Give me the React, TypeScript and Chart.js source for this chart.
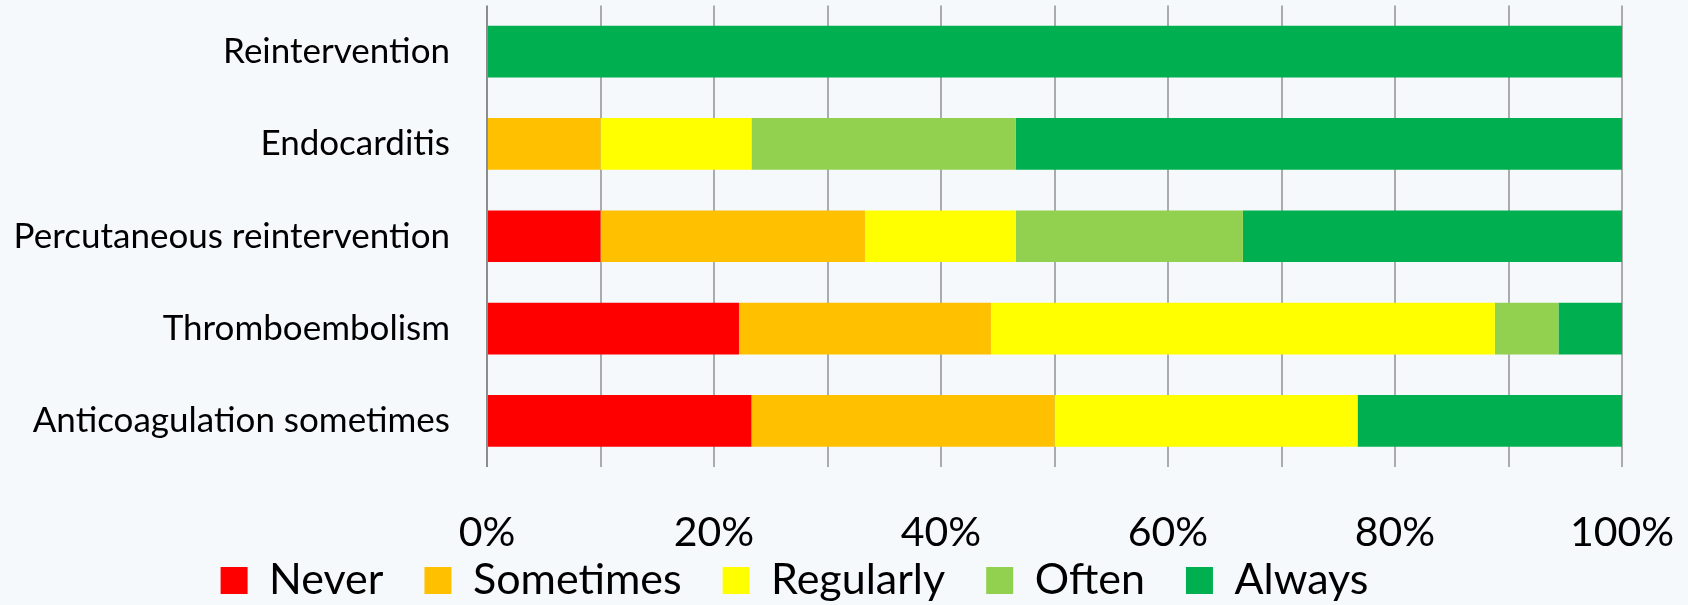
import React, { useEffect, useRef } from "react";
import { Chart, registerables } from "chart.js";

Chart.register(...registerables);

const categories = [
  "Reintervention",
  "Endocarditis",
  "Percutaneous reintervention",
  "Thromboembolism",
  "Anticoagulation sometimes",
];
const seriesNames = ["Never", "Sometimes", "Regularly", "Often", "Always"];
const seriesColors = ["#FF0000", "#FFC000", "#FFFF00", "#92D050", "#00B050"];
const never = [0, 0, 10, 22.2, 23.3];
const sometimes = [0, 10, 23.3, 22.2, 26.7];
const regularly = [0, 13.3, 13.3, 44.4, 26.7];
const often = [0, 23.3, 20, 5.6, 0];
const always = [100, 53.4, 33.4, 5.6, 23.3];
const xTickLabels = ["0%", "20%", "40%", "60%", "80%", "100%"];

const FONT = "Lato, 'Open Sans', sans-serif";
const BG = "#F6F9FC";

export default function App() {
  const ref = useRef<HTMLCanvasElement>(null);
  useEffect(() => {
    document.body.style.margin = "0";
    const values = [never, sometimes, regularly, often, always];
    const chart = new Chart(ref.current!, {
      type: "bar",
      data: {
        labels: categories,
        datasets: seriesNames.map((n, i) => ({
          label: n,
          data: values[i],
          backgroundColor: seriesColors[i],
          borderWidth: 0,
          barPercentage: 0.56,
          categoryPercentage: 1,
        })),
      },
      options: {
        indexAxis: "y",
        animation: false,
        responsive: false,
        maintainAspectRatio: false,
        layout: { padding: { top: 5.5, right: 66, left: -33, bottom: -7 } },
        plugins: {
          legend: {
            display: true,
            position: "bottom",
            labels: {
              boxWidth: 27,
              boxHeight: 27,
              padding: 41,
              color: "#000",
              font: { family: FONT, size: 43 },
            },
          },
          tooltip: { enabled: false },
        },
        scales: {
          x: {
            stacked: true,
            min: 0,
            max: 100,
            border: { display: false },
            grid: {
              color: (c: any) => (c.tick && c.tick.value === 0 ? "#8C8C8C" : "#ABABAB"),
              lineWidth: 2,
              drawTicks: false,
            },
            ticks: {
              stepSize: 10,
              mirror: true,
              padding: -90,
              maxRotation: 0,
              autoSkip: false,
              color: "#000",
              font: { family: FONT, size: 41 },
              callback: (v: any) => {
                const n = Number(v);
                return n % 20 === 0 ? xTickLabels[n / 20] : "";
              },
            },
            afterFit: (s: any) => {
              s.height = 51;
              s.paddingLeft = 0;
              s.paddingRight = 0;
            },
          },
          y: {
            stacked: true,
            grid: { display: false, drawTicks: false },
            border: { display: false },
            ticks: {
              padding: 37,
              color: "#000",
              font: { family: FONT, size: 35 },
            },
            afterFit: (s: any) => {
              s.width = 520;
              s.paddingTop = 0;
              s.paddingBottom = 0;
            },
          },
        },
      },
    });
    return () => chart.destroy();
  }, []);
  return (
    <div style={{ position: "absolute", left: 0, top: 0, width: 1688, height: 605, background: BG }}>
      <canvas ref={ref} width={1688} height={605} style={{ width: 1688, height: 605, display: "block" }} />
    </div>
  );
}
